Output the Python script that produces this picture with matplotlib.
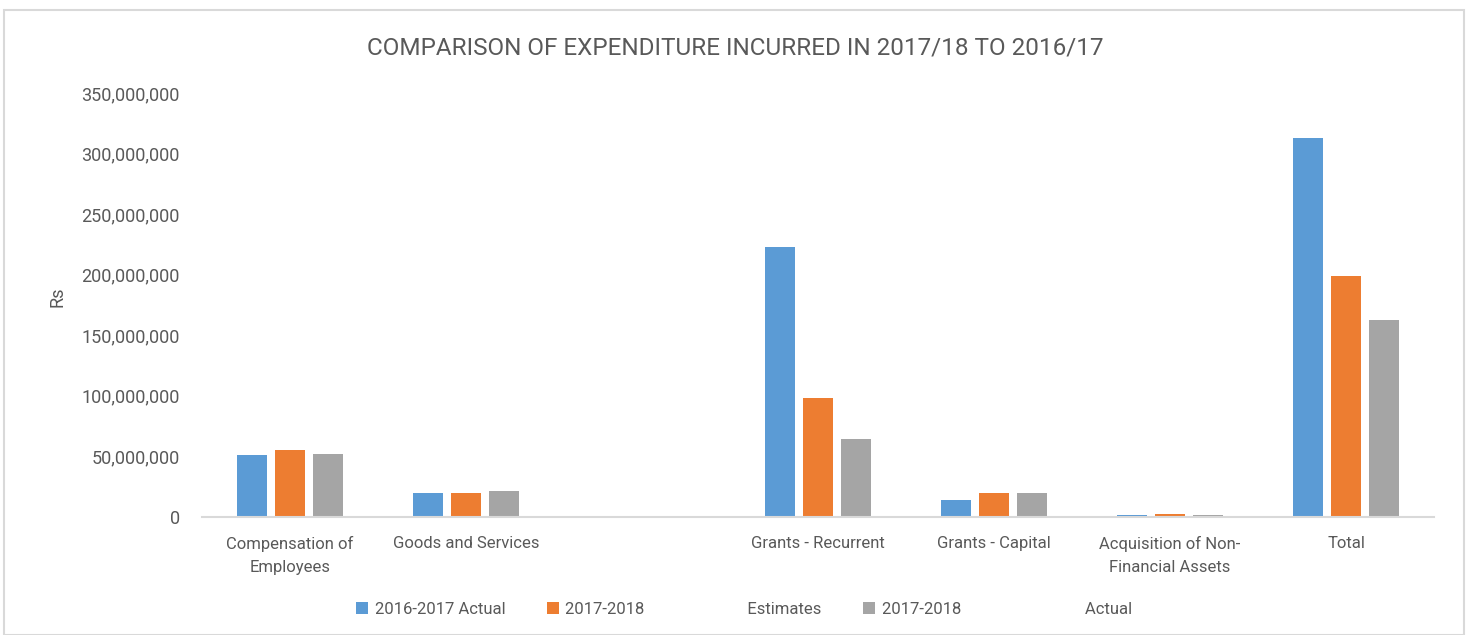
import matplotlib.pyplot as plt
from matplotlib.patches import Rectangle
from matplotlib.ticker import FuncFormatter
import numpy as np

plt.rcParams['font.family'] = ['Roboto', 'DejaVu Sans']

categories = ['Compensation of\nEmployees', 'Goods and Services', '',
              'Grants - Recurrent', 'Grants - Capital',
              'Acquisition of Non-\nFinancial Assets', 'Total']
actual_2016_17 = [51200000, 19800000, 0, 222800000, 14000000, 1600000, 312700000]
estimates_2017_18 = [55300000, 19800000, 0, 98200000, 19800000, 2500000, 198800000]
actual_2017_18 = [52000000, 21500000, 0, 64400000, 19800000, 1600000, 162500000]
series_labels = ['2016-2017 Actual',
                 '2017-2018' + ' ' * 25 + 'Estimates',
                 '2017-2018' + ' ' * 30 + 'Actual']
colors = ['#5B9BD5', '#ED7D31', '#A5A5A5']
text_grey = '#595959'

fig = plt.figure(figsize=(14.71, 6.35), dpi=100)
ax = fig.add_axes([202 / 1471, 1 - 517 / 635, 1232 / 1471, 424 / 635])

x = np.arange(len(categories))
offsets = [-0.216, 0, 0.216]
for vals, off, col, lab in zip([actual_2016_17, estimates_2017_18, actual_2017_18],
                               offsets, colors, series_labels):
    ax.bar(x + off, vals, width=0.17, color=col, label=lab, zorder=2)

ax.set_xlim(-0.5, len(categories) - 0.5)
ax.set_ylim(0, 350000000)
ax.set_yticks(np.arange(0, 350000001, 50000000))
ax.yaxis.set_major_formatter(FuncFormatter(lambda v, p: '{:,.0f}'.format(v)))
ax.set_xticks(x)
ax.set_xticklabels(categories, fontsize=12, color=text_grey, linespacing=1.6)
ax.tick_params(axis='y', length=0, labelsize=13, labelcolor=text_grey, pad=16)
ax.tick_params(axis='x', length=0, pad=14)
for s in ['top', 'right', 'left']:
    ax.spines[s].set_visible(False)
ax.spines['bottom'].set_color('#D9D9D9')
ax.spines['bottom'].set_linewidth(1.5)

ax.set_ylabel('Rs', fontsize=13, color=text_grey)
ax.yaxis.set_label_coords(-0.110, 0.52)

fig.text(0.5, 1 - 48 / 635, 'COMPARISON OF EXPENDITURE INCURRED IN 2017/18 TO 2016/17',
         ha='center', va='center', fontsize=17.5, color=text_grey)

ax.legend(loc='center', bbox_to_anchor=(0.44, -0.217), ncol=3, frameon=False,
          fontsize=12, labelcolor=text_grey, handlelength=0.7, handleheight=0.7,
          handletextpad=0.4, columnspacing=2.5)

fig.patches.append(Rectangle((4 / 1471, 0), 1460 / 1471, 1 - 10 / 635,
                             transform=fig.transFigure, fill=False,
                             edgecolor='#D9D9D9', linewidth=1.5))

fig.savefig('out.png', dpi=100)
